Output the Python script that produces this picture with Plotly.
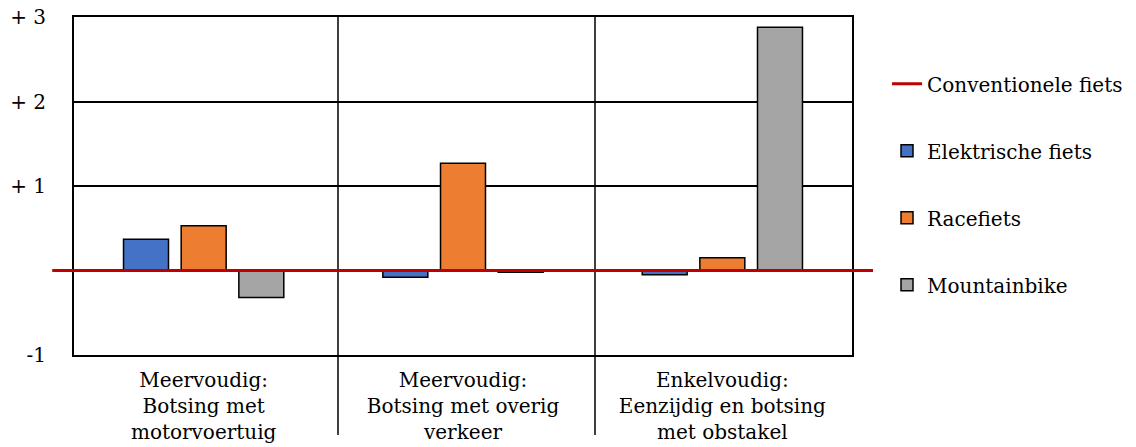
import plotly.graph_objects as go

categories = ["Meervoudig:<br>Botsing met<br>motorvoertuig",
              "Meervoudig:<br>Botsing met overig<br>verkeer",
              "Enkelvoudig:<br>Eenzijdig en botsing<br>met obstakel"]
elektrisch = [0.37, -0.08, -0.05]
racefiets = [0.53, 1.27, 0.15]
mountainbike = [-0.32, -0.02, 2.88]
conventioneel = 0
series_names = ["Elektrische fiets", "Racefiets", "Mountainbike"]
colors = ["#4472C4", "#ED7D31", "#A5A5A5"]
ytickvals = [-1, 1, 2, 3]
yticktext = ["-1", "+ 1", "+ 2", "+ 3"]

FONT = "DejaVu Serif"
FS = 20
x = [0, 1, 2]
fig = go.Figure()
for i, (name, vals) in enumerate(zip(series_names, [elektrisch, racefiets, mountainbike])):
    fig.add_trace(go.Bar(x=x, y=vals, name=name, marker=dict(color=colors[i], line=dict(color="black", width=1.5)),
                         legendgroup=name, legendrank=2 + i))

# reference line (conventional bike)
fig.add_shape(type="line", xref="paper", x0=-0.028, x1=1.027, yref="y", y0=conventioneel, y1=conventioneel,
              line=dict(color="#C00000", width=3), layer="above", showlegend=True,
              name="Conventionele fiets", legendrank=1, legendgroup="conv")

# category dividers
for xv in [0.518, 1.509]:
    fig.add_shape(type="line", xref="x", x0=xv, x1=xv, yref="paper", y0=-0.237, y1=1,
                  line=dict(color="black", width=1.5), layer="below")

fig.update_layout(
    width=1136, height=447,
    margin=dict(l=74, r=284, t=17, b=92, autoexpand=False),
    plot_bgcolor="white", paper_bgcolor="white",
    font=dict(family=FONT, size=FS, color="black"),
    barmode="group", bargap=0.333, bargroupgap=0.22,
    showlegend=True,
    legend=dict(x=1.045, y=0.86, xanchor="left", yanchor="top", tracegroupgap=38,
                font=dict(size=FS, family=FONT), itemwidth=30, bgcolor="rgba(0,0,0,0)"),
)
fig.update_xaxes(range=[-0.5, 2.5], tickvals=x, ticktext=categories, showgrid=False,
                 showline=True, linecolor="black", linewidth=2, mirror=True, ticks="",
                 automargin=False, ticklabelstandoff=6, tickfont=dict(size=FS, family=FONT))
fig.update_yaxes(range=[-1, 3], tickvals=ytickvals, ticktext=yticktext, showgrid=True,
                 gridcolor="black", gridwidth=1.5, zeroline=False,
                 showline=True, linecolor="black", linewidth=2, mirror=True, ticks="",
                 automargin=False, ticklabelstandoff=22, tickfont=dict(size=FS, family=FONT))

fig.write_html("out.html", config={"displayModeBar": False},
               post_script="document.body.style.margin='0px';document.body.style.overflow='hidden';")
